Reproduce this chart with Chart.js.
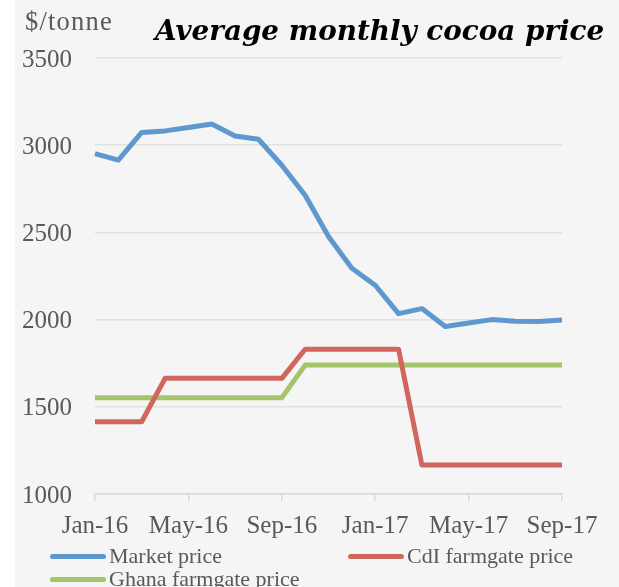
<!DOCTYPE html>
<html>
<head>
<meta charset="utf-8">
<script src="https://cdn.jsdelivr.net/npm/chart.js@4/dist/chart.umd.min.js"></script>
<style>
  html, body { margin: 0; padding: 0; background: #ffffff; }
  #wrap { position: relative; width: 619px; height: 587px; overflow: hidden; }
  #bg { position: absolute; left: 15px; top: 0; right: 0; bottom: 0; background: #f5f5f5; }
  canvas { position: absolute; left: 0; top: 0; }
  #unit { position: absolute; left: 25px; top: 6px; font: 26.5px "Liberation Serif", serif; letter-spacing: 1.2px; color: #595959; white-space: nowrap; }
  #title { position: absolute; left: 155px; top: 14px; font: bold italic 27.8px "DejaVu Serif", serif; color: #000; white-space: nowrap; }
  .leg { position: absolute; font: 22px "Liberation Serif", serif; color: #595959; white-space: nowrap; line-height: 22px; }
  .leg span.sw { display: inline-block; width: 56px; height: 5px; border-radius: 3px; vertical-align: middle; margin-right: 3px; position: relative; top: -1px; }
</style>
</head>
<body>
<div id="wrap">
  <div id="bg"></div>
  <canvas id="c" width="619" height="587"></canvas>
  <div id="unit">$/tonne</div>
  <div id="title">Average monthly cocoa price</div>
  <div id="legend"></div>
</div>
<script>
const months = ['Jan-16','Feb-16','Mar-16','Apr-16','May-16','Jun-16','Jul-16','Aug-16','Sep-16','Oct-16','Nov-16','Dec-16',
                'Jan-17','Feb-17','Mar-17','Apr-17','May-17','Jun-17','Jul-17','Aug-17','Sep-17'];
const xTickLabels = ['Jan-16','May-16','Sep-16','Jan-17','May-17','Sep-17'];
const marketPrice = [2952, 2914, 3073, 3082, 3102, 3121, 3053, 3034, 2885, 2713, 2477, 2294,
                     2197, 2034, 2063, 1961, 1980, 2000, 1990, 1989, 1998];
const cdiFarmgate = [1414, 1414, 1414, 1663, 1663, 1663, 1663, 1663, 1663, 1830, 1830, 1830,
                     1830, 1830, 1166, 1166, 1166, 1166, 1166, 1166, 1166];
const ghanaFarmgate = [1552, 1552, 1552, 1552, 1552, 1552, 1552, 1552, 1552, 1739, 1739, 1739,
                       1739, 1739, 1739, 1739, 1739, 1739, 1739, 1739, 1739];
const yTicks = [1000, 1500, 2000, 2500, 3000, 3500];

const seriesNames = ['Market price', 'CdI farmgate price', 'Ghana farmgate price'];
const seriesColors = ['#5f98cf', '#d0675e', '#a6c46a'];

const tickFont = { family: 'Liberation Serif', size: 25 };

const chart = new Chart(document.getElementById('c'), {
  type: 'line',
  data: {
    labels: months,
    datasets: [marketPrice, cdiFarmgate, ghanaFarmgate].map((d, i) => ({
      label: seriesNames[i],
      data: d,
      borderColor: seriesColors[i],
      backgroundColor: seriesColors[i],
      borderWidth: 5,
      pointRadius: 0,
      tension: 0,
      borderJoinStyle: 'round',
      borderCapStyle: 'butt'
    }))
  },
  options: {
    responsive: false,
    animation: false,
    devicePixelRatio: 1,
    layout: { padding: { top: 58, right: 57, left: 0, bottom: 0 } },
    plugins: { legend: { display: false }, title: { display: false }, tooltip: { enabled: false } },
    scales: {
      x: {
        type: 'category',
        offset: false,
        afterFit: s => { s.height = 93; },
        border: { display: true, color: '#d9d9d9', width: 1.5 },
        grid: {
          display: true, drawOnChartArea: false, drawTicks: true, tickLength: 7, lineWidth: 1.5,
          color: ctx => (xTickLabels.includes(months[ctx.index]) ? '#d9d9d9' : 'rgba(0,0,0,0)')
        },
        ticks: {
          autoSkip: false, maxRotation: 0, minRotation: 0, padding: 10,
          color: '#595959', font: tickFont,
          callback: function (v, i) { const l = months[i]; return xTickLabels.includes(l) ? l : ''; }
        }
      },
      y: {
        min: yTicks[0], max: yTicks[yTicks.length - 1],
        afterFit: s => { s.width = 95; },
        afterBuildTicks: s => { s.ticks = yTicks.map(v => ({ value: v })); },
        border: { display: false },
        grid: { color: '#e1e1e1', lineWidth: 1.5, drawTicks: false },
        ticks: { padding: 23, labelOffset: 2, color: '#595959', font: tickFont,
                 callback: v => String(v) }
      }
    }
  }
});

// HTML legend built from the chart's datasets
const legend = document.getElementById('legend');
const legPos = [[50, 545], [348, 545], [50, 568]];
chart.data.datasets.forEach((ds, i) => {
  const d = document.createElement('div');
  d.className = 'leg';
  d.style.left = legPos[i][0] + 'px';
  d.style.top = legPos[i][1] + 'px';
  d.innerHTML = '<span class="sw" style="background:' + ds.borderColor + '"></span>' + ds.label;
  legend.appendChild(d);
});
</script>
</body>
</html>
